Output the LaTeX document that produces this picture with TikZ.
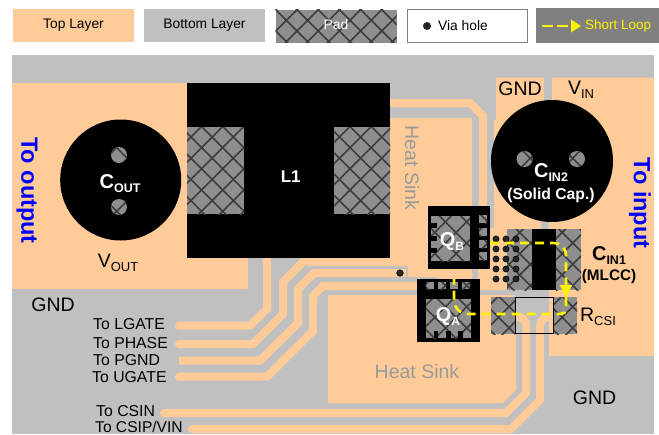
\documentclass[tikz,border=0pt]{standalone}
\usepackage{fontspec}
\setmainfont{Liberation Sans}
\usetikzlibrary{patterns.meta, arrows.meta}
\definecolor{toplayer}{HTML}{FFCC99}
\definecolor{botlayer}{HTML}{C0C0C0}
\definecolor{padgray}{HTML}{8E8E8E}
\definecolor{hatch}{HTML}{3C3C3C}
\definecolor{loopgray}{HTML}{808080}
\definecolor{sinkgray}{HTML}{999999}
\newcommand{\fsize}[1]{\fontsize{#1}{#1}\selectfont}
\newcommand{\subs}[2]{\raisebox{-0.2em}{\fsize{#1}#2}}
\tikzstyle{toparea} = [fill=toplayer]
\tikzstyle{padarea} = [fill=padgray, postaction={pattern={Lines[angle=45,distance=15pt,line width=1.6pt]}, pattern color=hatch}, postaction={pattern={Lines[angle=-45,distance=15pt,line width=1.6pt]}, pattern color=hatch}]
\tikzstyle{trace} = [draw=toplayer, line width=8pt, line cap=round]
\tikzstyle{legend} = [rectangle, minimum width=121pt, minimum height=33pt, inner sep=0pt, text centered, font=\fsize{13.8}]
\tikzstyle{netlabel} = [inner sep=0pt, font=\fsize{19.5}]
\tikzstyle{tolabel} = [inner sep=0pt, anchor=west, font=\fsize{15.8}]
\tikzstyle{partlabel} = [inner sep=0pt, text=white, font=\bfseries\fsize{20}]
\tikzstyle{sidelabel} = [inner sep=0pt, rotate=-90, text=blue, font=\bfseries\fsize{23.5}]
\tikzstyle{sinklabel} = [inner sep=0pt, text=sinkgray, font=\fsize{19.5}]
\tikzstyle{shortloop} = [draw=yellow, line width=2.6pt, dash pattern=on 9pt off 6pt]
\tikzstyle{viahole} = [fill=black!85, draw=black, line width=0.5pt]

\begin{document}
\begin{tikzpicture}[x=1pt, y=-1pt]
  \useasboundingbox (0,0) rectangle (659,434);

  % legend
  \node (ltop) [legend, fill=toplayer] at (73.5,25) {Top Layer};
  \node (lbot) [legend, fill=botlayer] at (204.5,25) {Bottom Layer};
  \node (lpad) [legend, padarea, text=white] at (336,26) {};
  \node (lpadtext) [legend, text=white] at (336,25) {Pad};
  \node (lvia) [legend, fill=white, draw=loopgray, line width=1pt, minimum width=120pt, minimum height=33pt] at (467,25.5) {};
  \fill [black!85] (427,26) circle (4);
  \node (lviatext) [tolabel, font=\fsize{13.8}] at (438,26) {Via hole};
  \node (lloop) [legend, fill=loopgray, minimum width=123pt, minimum height=35pt] at (597.5,25.5) {};
  \coordinate (lla) at (542,26);
  \coordinate (llb) at (571,26);
  \draw [yellow, line width=2pt, dash pattern=on 10.5pt off 4.5pt] (lla) -- (llb);
  \fill [yellow] (571,19.5) -- (581,26) -- (571,32.5) -- cycle;
  \node (llooptext) [tolabel, text=yellow, font=\fsize{13.5}] at (585,26) {Short Loop};

  % board
  \fill [botlayer] (12,55) rectangle (654,434);

  % top layer copper
  \fill [toparea] (12,83) rectangle (248,289);
  \fill [toparea] (385,118) -- (472,118) -- (472,279) -- (438,279) -- (438,277) -- (408,277) -- (408,266) -- (308,266) -- (300,258) -- (300,250) -- (385,250) -- cycle;
  \fill [toparea] (328,295) -- (516,295) -- (516,390) -- (503,403) -- (328,403) -- cycle;
  \fill [toparea] (496,77.5) -- (544,77.5) -- (544,120) -- (541,120) -- (541,290) -- (478,290) -- (478,228) -- (494,228) -- (494,120) -- (496,120) -- cycle;
  \fill [toparea] (552,77.5) -- (654,77.5) -- (654,356) -- (549,356) -- (549,120) -- (552,120) -- cycle;
  \fill [botlayer] (406,266) rectangle (408,277);

  % sense resistor copper
  \fill [botlayer] (515,295) -- (549,295) -- (549,312) .. controls (541,313) and (537,318) .. (537,328) -- (530,328) .. controls (530,318) and (526,313) .. (515,312) -- cycle;

  % traces
  \draw [trace, line cap=butt] (385,103) -- (470,103) -- (483,116) -- (483,235);
  \draw [trace] (179,325.7) -- (250,325.7) -- (267,309) -- (267,255);
  \draw [trace] (179,344) -- (253,344) -- (283,314) -- (283,282) -- (304,261);
  \draw [trace, line cap=butt] (179,360.7) -- (260,360.7) -- (298,323) -- (298,289) -- (314,273) -- (406,273);
  \draw [trace] (179,376.7) -- (267,376.7) -- (313,331) -- (313,296) -- (323,286) -- (420,286);
  \draw [trace] (164,413) -- (506,413) -- (526,393) -- (526,326) .. controls (526,320) and (522,316.5) .. (515,316.5);
  \draw [trace] (192,429) -- (511,429) -- (540,400) -- (540,326) .. controls (540,320) and (544,316.5) .. (553,316.5);

  % output cap and inductor
  \fill [black] (120.7,180) circle (60.5);
  \path [padarea] (119,155) circle (8);
  \path [padarea] (119,207) circle (8);
  \fill [black] (187,83) rectangle (390,258);
  \path [padarea] (187,127) rectangle (244,214);
  \path [padarea] (334,127) rectangle (390,214);

  % input cap
  \fill [black] (552,161) circle (61);
  \path [padarea] (524.6,159) circle (8);
  \path [padarea] (577,159) circle (8);

  % high side fet
  \fill [black] (428,206) rectangle (490,269);
  \path [padarea] (431,216) rectangle (470,261);
  \fill [black] (431,223) rectangle (437,228);
  \fill [black] (431,236) rectangle (437,241);
  \fill [black] (431,248) rectangle (437,253);
  \path [padarea] (479,215) rectangle (487,223);
  \path [padarea] (479,228) rectangle (487,236);
  \path [padarea] (479,240) rectangle (487,248);
  \path [padarea] (479,252) rectangle (487,260);

  % low side fet
  \fill [black] (417,279) rectangle (480,342);
  \path [padarea] (426,282) rectangle (434,289);
  \path [padarea] (438,282) rectangle (446,289);
  \path [padarea] (450,282) rectangle (458,289);
  \path [padarea] (462,282) rectangle (470,289);
  \path [padarea] (426,299) rectangle (471,338);
  \fill [black] (434,331) rectangle (438,338);
  \fill [black] (446,331) rectangle (451,338);
  \fill [black] (458,331) rectangle (463,338);

  % mlcc and sense resistor
  \path [padarea] (507,229) rectangle (532,290);
  \fill [black] (532,229) rectangle (556,290);
  \path [padarea] (556,229) rectangle (581,290);
  \path [padarea] (491,297) rectangle (515,334);
  \path [padarea] (553,297) rectangle (577,334);
  \draw [black, line width=0.8pt] (515,297) rectangle (553,333.5);

  % vias
  \foreach \xvia in {496,506,516}
    \foreach \yvia in {239,249,259,269,279}
      \path [viahole] (\xvia,\yvia) circle (3.1);
  \path [viahole] (400,273) circle (3.3);

  % current loop
  \coordinate (qbout) at (490,243);
  \coordinate (capin) at (566,297);
  \coordinate (capout) at (566,297);
  \coordinate (qain) at (454,279);
  \draw [shortloop, -{Triangle[length=12pt,width=12pt]}] (qbout) -- (553,243) .. controls (561,243) and (566,248) .. (566,256) -- (capin);
  \draw [shortloop] (capout) -- (566,308) .. controls (566,312) and (564,314) .. (561,314) -- (468,314) .. controls (460,314) and (454,308) .. (454,300) -- (qain);

  % labels
  \node (toout) [sidelabel] at (27,190.5) {To output};
  \node (toin) [sidelabel] at (640,203) {To input};
  \node (cout) [partlabel] at (120,184) {C\subs{12.5}{OUT}};
  \node (lone) [partlabel, font=\bfseries\fsize{17}] at (290.7,177) {L1};
  \node (cin2) [partlabel] at (551,173) {C\subs{12.5}{IN2}};
  \node (solid) [partlabel, font=\bfseries\fsize{15.7}] at (551,195) {(Solid Cap.)};
  \node (cin1) [partlabel, text=black] at (609,256) {C\subs{12.5}{IN1}};
  \node (mlcc) [partlabel, text=black, font=\bfseries\fsize{15.3}] at (609,277) {(MLCC)};
  \node (qb) [partlabel] at (452,242) {Q\subs{12}{B}};
  \node (qa) [partlabel] at (448,317) {Q\subs{12}{A}};
  \node (vout) [netlabel] at (118,263) {V\subs{13}{OUT}};
  \node (vin) [netlabel] at (581,90) {V\subs{13}{IN}};
  \node (gndtop) [netlabel] at (520,89) {GND};
  \node (gndleft) [netlabel] at (53,305) {GND};
  \node (gndright) [netlabel] at (594.5,398) {GND};
  \node (rcsi) [netlabel] at (598,317) {R\subs{13}{CSI}};
  \node (sinkup) [sinklabel, rotate=-90] at (412,168) {Heat Sink};
  \node (sinklow) [sinklabel] at (417,372) {Heat Sink};
  \node (tolgate) [tolabel] at (93,324) {To LGATE};
  \node (tophase) [tolabel] at (93,343) {To PHASE};
  \node (topgnd) [tolabel] at (93,360) {To PGND};
  \node (tougate) [tolabel] at (92,377) {To UGATE};
  \node (tocsin) [tolabel] at (96,411.5) {To CSIN};
  \node (tocsip) [tolabel, font=\fsize{15.6}] at (95,426.5) {To CSIP/VIN};
\end{tikzpicture}
\end{document}
